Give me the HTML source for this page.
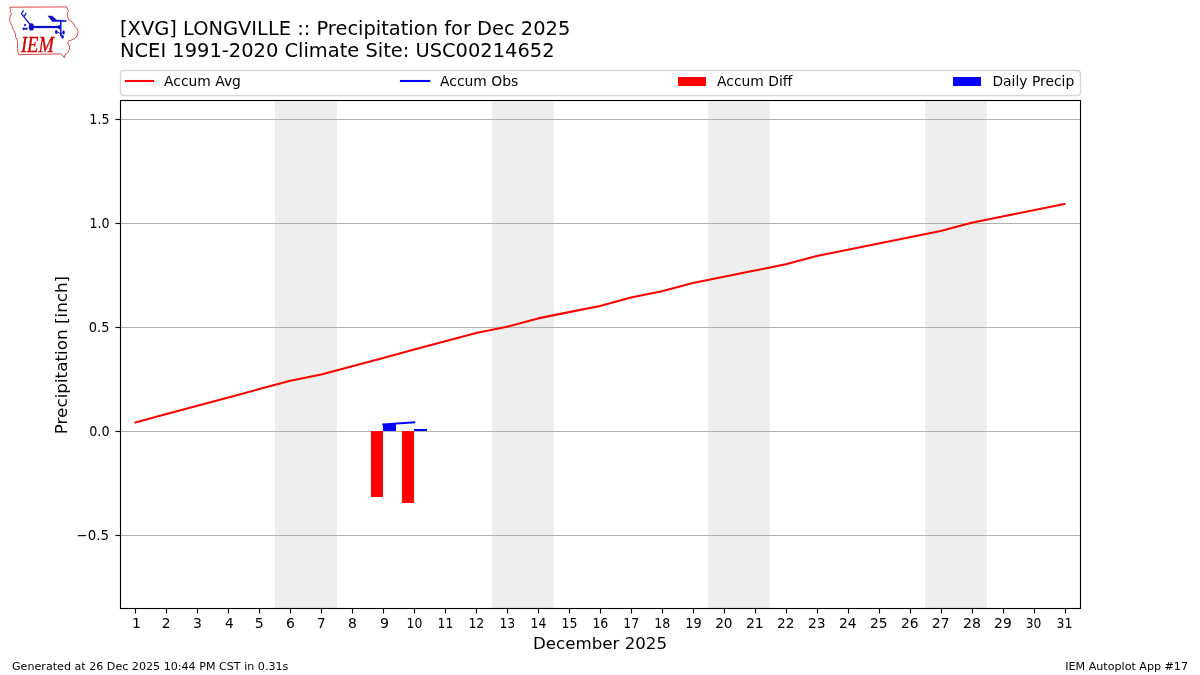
<!DOCTYPE html>
<html lang="en"><head><meta charset="utf-8"><title>IEM Autoplot App #17</title>
<style>
html,body{margin:0;padding:0;background:#fff;}
body{width:1200px;height:675px;overflow:hidden;}
svg{display:block;}
text{font-family:"DejaVu Sans","Liberation Sans",sans-serif;fill:#000;}
.tk{font-size:13.89px;}
</style></head><body>
<svg width="1200" height="675" viewBox="0 0 1200 675">
<rect width="1200" height="675" fill="#fff"/>
<rect x="275" y="101" width="62" height="507" fill="#eeeeee" shape-rendering="crispEdges"/>
<rect x="492" y="101" width="62" height="507" fill="#eeeeee" shape-rendering="crispEdges"/>
<rect x="708" y="101" width="62" height="507" fill="#eeeeee" shape-rendering="crispEdges"/>
<rect x="925" y="101" width="62" height="507" fill="#eeeeee" shape-rendering="crispEdges"/>
<line x1="120.5" x2="1080.5" y1="119.5" y2="119.5" stroke="#b0b0b0" stroke-width="1.111"/>
<line x1="120.5" x2="1080.5" y1="223.5" y2="223.5" stroke="#b0b0b0" stroke-width="1.111"/>
<line x1="120.5" x2="1080.5" y1="327.5" y2="327.5" stroke="#b0b0b0" stroke-width="1.111"/>
<line x1="120.5" x2="1080.5" y1="431.5" y2="431.5" stroke="#b0b0b0" stroke-width="1.111"/>
<line x1="120.5" x2="1080.5" y1="535.5" y2="535.5" stroke="#b0b0b0" stroke-width="1.111"/>
<rect x="371" y="431.0" width="12" height="66.0" fill="#ff0000"/>
<rect x="402" y="431.0" width="12" height="72.0" fill="#ff0000"/>
<rect x="383" y="424.0" width="13" height="7.0" fill="#0000ff"/>
<rect x="414" y="429.0" width="13" height="2.0" fill="#0000ff"/>
<polyline points="135.48,422.38 166.45,414.06 197.42,405.74 228.39,397.42 259.35,389.10 290.32,380.78 321.29,374.54 352.26,366.22 383.23,357.90 414.19,349.58 445.16,341.26 476.13,332.94 507.10,326.70 538.06,318.38 569.03,312.14 600.00,305.90 630.97,297.58 661.94,291.34 692.90,283.02 723.87,276.78 754.84,270.54 785.81,264.30 816.77,255.98 847.74,249.74 878.71,243.50 909.68,237.26 940.65,231.02 971.61,222.70 1002.58,216.46 1033.55,210.22 1064.52,203.98" fill="none" stroke="#ff0000" stroke-width="2.08" stroke-linecap="square" stroke-linejoin="round"/>
<polyline points="383.23,424.46 414.19,422.38" fill="none" stroke="#0000ff" stroke-width="2.08" stroke-linecap="square"/>
<rect x="120.5" y="100.5" width="960.0" height="508.0" fill="none" stroke="#000" stroke-width="1.111" stroke-linejoin="miter"/>
<line x1="135.5" x2="135.5" y1="608.5" y2="613.5" stroke="#000" stroke-width="1.111"/><text class="tk" transform="translate(136.39,628) scale(1.0021,1)" text-anchor="middle">1</text>
<line x1="166.5" x2="166.5" y1="608.5" y2="613.5" stroke="#000" stroke-width="1.111"/><text class="tk" transform="translate(166.27,628) scale(0.9982,1)" text-anchor="middle">2</text>
<line x1="197.5" x2="197.5" y1="608.5" y2="613.5" stroke="#000" stroke-width="1.111"/><text class="tk" transform="translate(197.51,628) scale(1.0128,1)" text-anchor="middle">3</text>
<line x1="228.5" x2="228.5" y1="608.5" y2="613.5" stroke="#000" stroke-width="1.111"/><text class="tk" transform="translate(229.37,628) scale(0.9834,1)" text-anchor="middle">4</text>
<line x1="259.5" x2="259.5" y1="608.5" y2="613.5" stroke="#000" stroke-width="1.111"/><text class="tk" transform="translate(259.30,628) scale(1.0161,1)" text-anchor="middle">5</text>
<line x1="290.5" x2="290.5" y1="608.5" y2="613.5" stroke="#000" stroke-width="1.111"/><text class="tk" transform="translate(290.42,628) scale(1.0115,1)" text-anchor="middle">6</text>
<line x1="321.5" x2="321.5" y1="608.5" y2="613.5" stroke="#000" stroke-width="1.111"/><text class="tk" transform="translate(321.45,628) scale(0.9868,1)" text-anchor="middle">7</text>
<line x1="352.5" x2="352.5" y1="608.5" y2="613.5" stroke="#000" stroke-width="1.111"/><text class="tk" transform="translate(352.53,628) scale(1.0069,1)" text-anchor="middle">8</text>
<line x1="383.5" x2="383.5" y1="608.5" y2="613.5" stroke="#000" stroke-width="1.111"/><text class="tk" transform="translate(384.53,628) scale(1.0212,1)" text-anchor="middle">9</text>
<line x1="414.5" x2="414.5" y1="608.5" y2="613.5" stroke="#000" stroke-width="1.111"/><text class="tk" transform="translate(414.45,628) scale(0.8918,1)" text-anchor="middle">10</text>
<line x1="445.5" x2="445.5" y1="608.5" y2="613.5" stroke="#000" stroke-width="1.111"/><text class="tk" transform="translate(445.43,628) scale(0.8881,1)" text-anchor="middle">11</text>
<line x1="476.5" x2="476.5" y1="608.5" y2="613.5" stroke="#000" stroke-width="1.111"/><text class="tk" transform="translate(476.34,628) scale(0.9011,1)" text-anchor="middle">12</text>
<line x1="507.5" x2="507.5" y1="608.5" y2="613.5" stroke="#000" stroke-width="1.111"/><text class="tk" transform="translate(507.35,628) scale(0.9032,1)" text-anchor="middle">13</text>
<line x1="538.5" x2="538.5" y1="608.5" y2="613.5" stroke="#000" stroke-width="1.111"/><text class="tk" transform="translate(538.49,628) scale(0.8946,1)" text-anchor="middle">14</text>
<line x1="569.5" x2="569.5" y1="608.5" y2="613.5" stroke="#000" stroke-width="1.111"/><text class="tk" transform="translate(569.38,628) scale(0.8968,1)" text-anchor="middle">15</text>
<line x1="600.5" x2="600.5" y1="608.5" y2="613.5" stroke="#000" stroke-width="1.111"/><text class="tk" transform="translate(600.32,628) scale(0.8964,1)" text-anchor="middle">16</text>
<line x1="631.5" x2="631.5" y1="608.5" y2="613.5" stroke="#000" stroke-width="1.111"/><text class="tk" transform="translate(631.34,628) scale(0.9040,1)" text-anchor="middle">17</text>
<line x1="662.5" x2="662.5" y1="608.5" y2="613.5" stroke="#000" stroke-width="1.111"/><text class="tk" transform="translate(662.35,628) scale(0.9075,1)" text-anchor="middle">18</text>
<line x1="693.5" x2="693.5" y1="608.5" y2="613.5" stroke="#000" stroke-width="1.111"/><text class="tk" transform="translate(693.38,628) scale(0.9245,1)" text-anchor="middle">19</text>
<line x1="724.5" x2="724.5" y1="608.5" y2="613.5" stroke="#000" stroke-width="1.111"/><text class="tk" transform="translate(723.81,628) scale(0.9820,1)" text-anchor="middle">20</text>
<line x1="755.5" x2="755.5" y1="608.5" y2="613.5" stroke="#000" stroke-width="1.111"/><text class="tk" transform="translate(754.88,628) scale(1.0083,1)" text-anchor="middle">21</text>
<line x1="786.5" x2="786.5" y1="608.5" y2="613.5" stroke="#000" stroke-width="1.111"/><text class="tk" transform="translate(785.74,628) scale(0.9853,1)" text-anchor="middle">22</text>
<line x1="817.5" x2="817.5" y1="608.5" y2="613.5" stroke="#000" stroke-width="1.111"/><text class="tk" transform="translate(816.77,628) scale(1.0002,1)" text-anchor="middle">23</text>
<line x1="848.5" x2="848.5" y1="608.5" y2="613.5" stroke="#000" stroke-width="1.111"/><text class="tk" transform="translate(847.84,628) scale(0.9987,1)" text-anchor="middle">24</text>
<line x1="879.5" x2="879.5" y1="608.5" y2="613.5" stroke="#000" stroke-width="1.111"/><text class="tk" transform="translate(878.85,628) scale(0.9939,1)" text-anchor="middle">25</text>
<line x1="910.5" x2="910.5" y1="608.5" y2="613.5" stroke="#000" stroke-width="1.111"/><text class="tk" transform="translate(909.81,628) scale(0.9920,1)" text-anchor="middle">26</text>
<line x1="941.5" x2="941.5" y1="608.5" y2="613.5" stroke="#000" stroke-width="1.111"/><text class="tk" transform="translate(940.79,628) scale(1.0115,1)" text-anchor="middle">27</text>
<line x1="972.5" x2="972.5" y1="608.5" y2="613.5" stroke="#000" stroke-width="1.111"/><text class="tk" transform="translate(971.90,628) scale(1.0202,1)" text-anchor="middle">28</text>
<line x1="1003.5" x2="1003.5" y1="608.5" y2="613.5" stroke="#000" stroke-width="1.111"/><text class="tk" transform="translate(1002.89,628) scale(0.9956,1)" text-anchor="middle">29</text>
<line x1="1034.5" x2="1034.5" y1="608.5" y2="613.5" stroke="#000" stroke-width="1.111"/><text class="tk" transform="translate(1033.54,628) scale(0.8857,1)" text-anchor="middle">30</text>
<line x1="1065.5" x2="1065.5" y1="608.5" y2="613.5" stroke="#000" stroke-width="1.111"/><text class="tk" transform="translate(1064.44,628) scale(0.9000,1)" text-anchor="middle">31</text>
<line x1="115.5" x2="120.5" y1="119.5" y2="119.5" stroke="#000" stroke-width="1.111"/><text class="tk" transform="translate(109.58,124.08) scale(0.9169,1)" text-anchor="end">1.5</text>
<line x1="115.5" x2="120.5" y1="223.5" y2="223.5" stroke="#000" stroke-width="1.111"/><text class="tk" transform="translate(109.65,228.02) scale(0.9138,1)" text-anchor="end">1.0</text>
<line x1="115.5" x2="120.5" y1="327.5" y2="327.5" stroke="#000" stroke-width="1.111"/><text class="tk" transform="translate(109.43,332.20) scale(0.9347,1)" text-anchor="end">0.5</text>
<line x1="115.5" x2="120.5" y1="431.5" y2="431.5" stroke="#000" stroke-width="1.111"/><text class="tk" transform="translate(109.60,436.17) scale(0.9228,1)" text-anchor="end">0.0</text>
<line x1="115.5" x2="120.5" y1="535.5" y2="535.5" stroke="#000" stroke-width="1.111"/><text class="tk" transform="translate(109.16,540.14) scale(0.9678,1)" text-anchor="end">−0.5</text>
<text x="600" y="649" text-anchor="middle" font-size="16.67">December 2025</text>
<text transform="translate(67,355.05) rotate(-90) scale(1.0064,1)" text-anchor="middle" font-size="16.67">Precipitation [inch]</text>
<text x="120" y="34.5" font-size="19.44">[XVG] LONGVILLE :: Precipitation for Dec 2025</text>
<text x="120" y="56.7" font-size="19.44">NCEI 1991-2020 Climate Site: USC00214652</text>
<text x="12" y="669.5" font-size="11.11">Generated at 26 Dec 2025 10:44 PM CST in 0.31s</text>
<text x="1188" y="669.5" font-size="11.11" text-anchor="end">IEM Autoplot App #17</text>
<rect x="120.5" y="70.5" width="960" height="25" rx="3.2" fill="#fff" fill-opacity="0.8" stroke="#cccccc" stroke-opacity="0.8" stroke-width="1.39"/>
<line x1="124.9" x2="154.1" y1="81" y2="81" stroke="#ff0000" stroke-width="2.08"/><text class="tk" x="164" y="86.3">Accum Avg</text>
<line x1="399.9" x2="430.3" y1="81" y2="81" stroke="#0000ff" stroke-width="2.08"/><text class="tk" x="440" y="86.3">Accum Obs</text>
<rect x="678" y="77" width="28" height="9" fill="#ff0000"/><text class="tk" x="717" y="86.3">Accum Diff</text>
<rect x="953" y="77" width="28" height="9" fill="#0000ff"/><text class="tk" x="992.4" y="86.3">Daily Precip</text>
<g id="logo">
<path transform="translate(0.15,0.3)" d="M9.77,6.9 L66.65,6.6 L67.1,8.65 L68.4,10.9 L67.1,12.65 L67.3,16.2 L68.4,19.3 L70.6,20.6 L72.9,22.85 L75.1,26.4 L77.3,28.6 L78.0,31.3 L77.1,34.8 L75.1,37.9 L71.5,39.7 L68.4,40.6 L67.5,42.8 L69.3,45.5 L69.3,49.0 L67.5,52.6 L64.9,54.35 L64.2,57.5 L62.65,55.2 L60.4,53.6 L18.6,54.35 L17.75,51.7 L17.3,48.0 L17.5,43.7 L17.3,40.2 L15.5,36.6 L15.1,33.1 L13.3,29.5 L12.0,26.0 L10.2,22.0 L9.15,19.3 L10.2,16.2 L11.3,13.1 L10.0,11.3 L10.4,9.5 Z" fill="none" stroke="#d93f3f" stroke-width="0.95" stroke-linejoin="round"/>
<g stroke="#1010c6" fill="#1010c6">
<line x1="21.4" y1="13.6" x2="30.6" y2="25.2" stroke-width="1.35"/>
<line x1="21.3" y1="13.7" x2="23.7" y2="10.3" stroke-width="1.15"/>
<line x1="23.9" y1="16.6" x2="26.2" y2="12.9" stroke-width="1.15"/>
<ellipse cx="31.35" cy="26.9" rx="2.6" ry="3.7" stroke="none"/>
<circle cx="25.05" cy="25.1" r="1.1" stroke="none"/>
<circle cx="23.8" cy="28.65" r="1.25" stroke="none"/>
<circle cx="26.3" cy="28.65" r="1.25" stroke="none"/>
<line x1="33" y1="27" x2="60.4" y2="27" stroke-width="2.25"/>
<path d="M57.2,26 L60.3,24.7 L60.3,29.4 L57.2,28.1 Z" stroke="none"/>
<line x1="60.8" y1="19.8" x2="60.8" y2="36.4" stroke-width="1.45"/>
<path d="M47.6,15.8 L52.1,15.8 L56.6,19.8 L66.3,20.3 L66.6,21.7 L52.3,21.7 Z" stroke="none"/>
<path d="M56.6,31.8 L60.8,33.6 L63.4,32.6 M60.8,33.6 L62.5,36.4" fill="none" stroke-width="0.9"/>
<ellipse cx="56.3" cy="31.9" rx="1.3" ry="2.0" stroke="none"/>
<ellipse cx="63.6" cy="32.4" rx="1.2" ry="2.2" stroke="none"/>
<ellipse cx="62.6" cy="36.9" rx="1.3" ry="1.8" stroke="none"/>
</g>
<text transform="translate(20.9,51.7) scale(0.80,1)" font-size="23.2" style="font-family:'Liberation Serif','DejaVu Serif',serif;font-style:italic;fill:#cc0000;stroke:#cc0000;stroke-width:0.35px">IEM</text>
</g>
</svg></body></html>
